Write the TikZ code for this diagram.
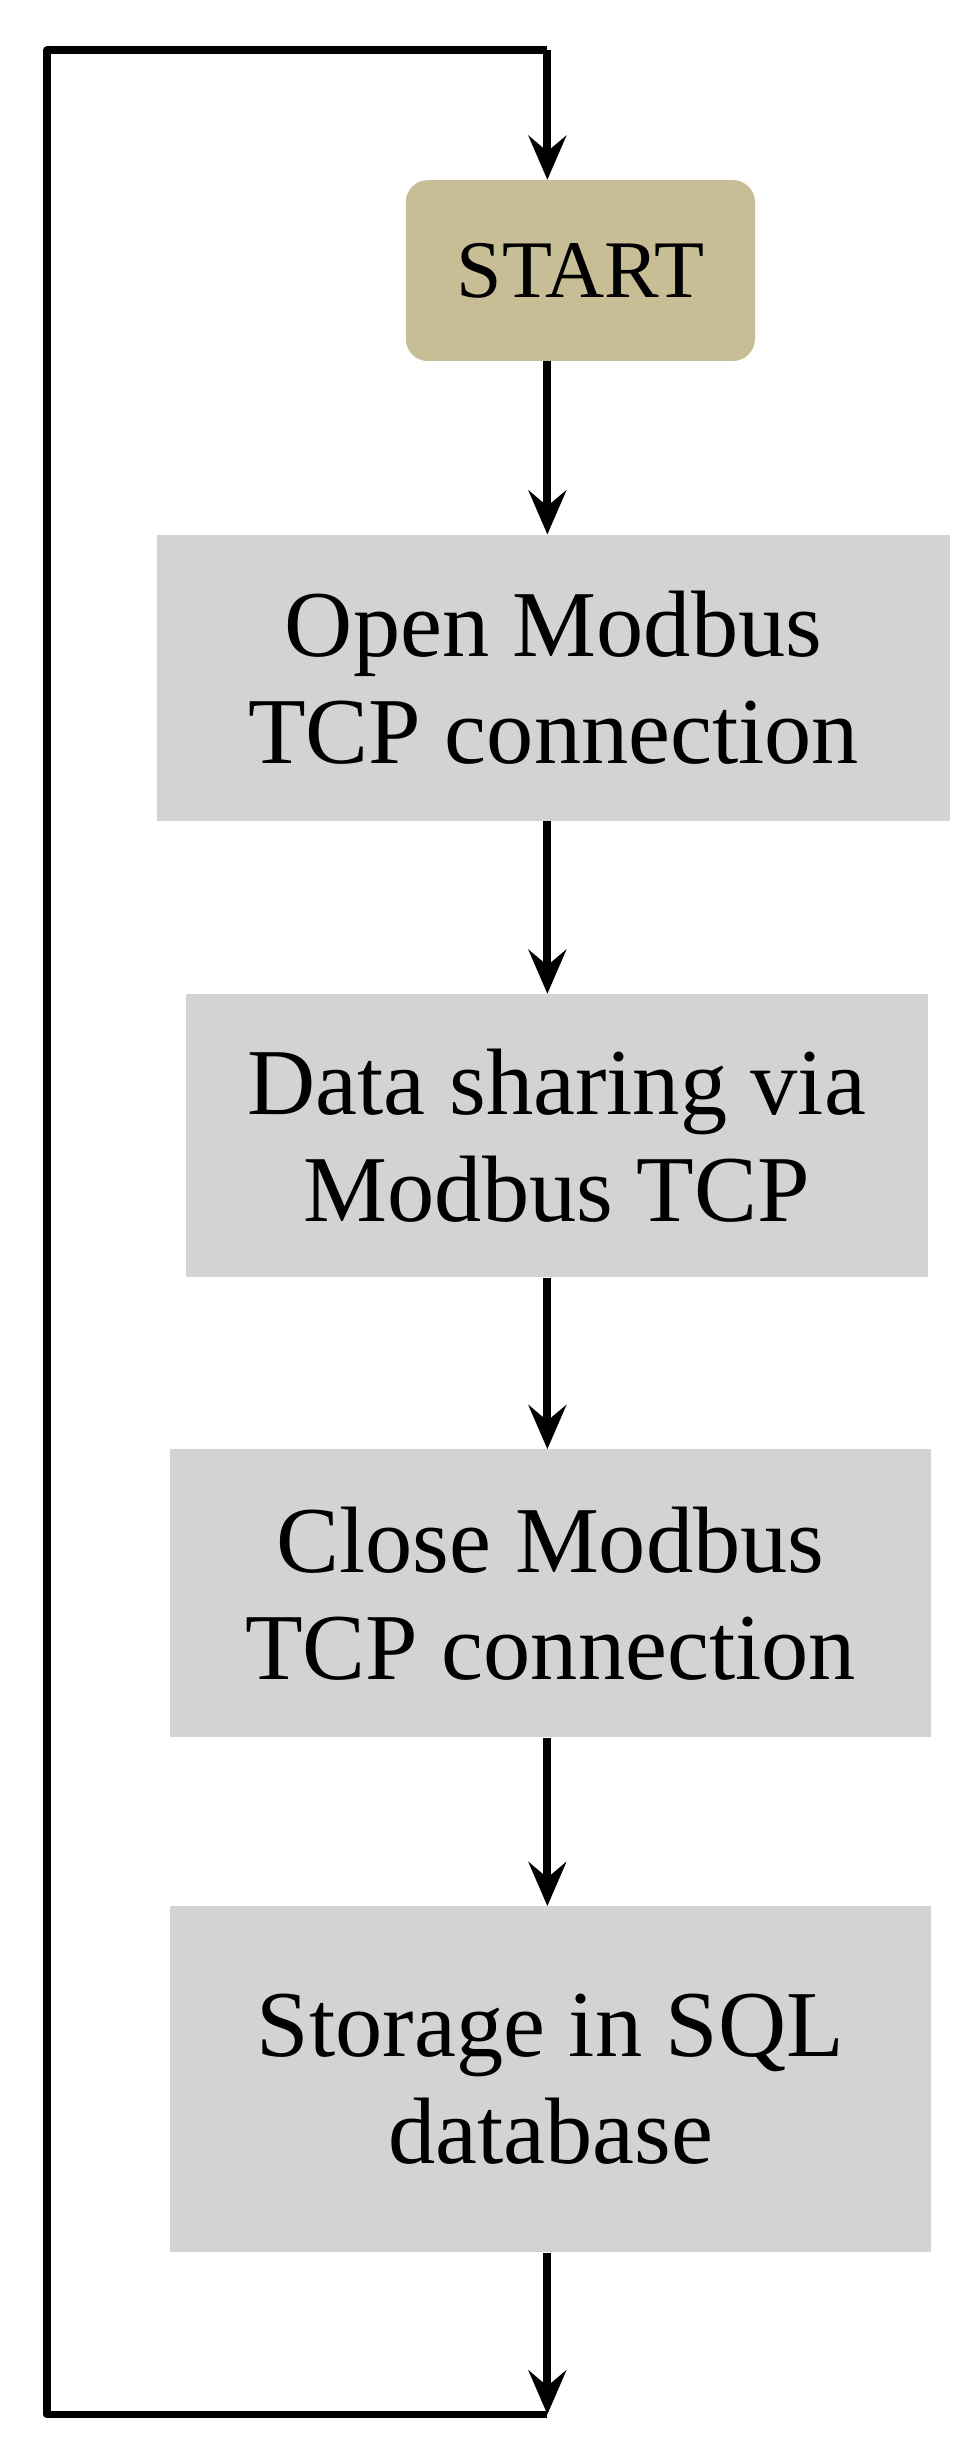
\documentclass[tikz,border=0pt]{standalone}
\usepackage{fontspec}
\setmainfont{Liberation Serif}
\usetikzlibrary{arrows.meta}
\definecolor{tan}{RGB}{200,190,150}
\definecolor{boxg}{RGB}{211,211,211}
\begin{document}
\begin{tikzpicture}[x=1pt,y=-1pt,
  box/.style={fill=boxg,draw=none,inner sep=0pt,align=center,font=\fontsize{60}{68}\selectfont},
  ar/.style={line width=5pt,-{Stealth[length=28pt,width=24pt,inset=10pt]}}]
\useasboundingbox (0,0) rectangle (622,1550);
\node[fill=tan,rounded corners=14pt,minimum width=222pt,minimum height=115pt,inner sep=0pt,font=\fontsize{52}{60}\selectfont] (s) at (369,172) {START};
\node[box,minimum width=504pt,minimum height=182pt] (b1) at (352,431) {Open Modbus\\TCP connection};
\node[box,minimum width=472pt,minimum height=180pt] (b2) at (354,722) {Data sharing via\\Modbus TCP};
\node[box,minimum width=484pt,minimum height=183pt] (b3) at (350,1013) {Close Modbus\\TCP connection};
\node[box,minimum width=484pt,minimum height=220pt] (b4) at (350,1322) {Storage in SQL\\database};
\coordinate (top) at (348,32);
\coordinate (bot) at (348,1535);
\draw[ar] (s.south -| top) -- (b1.north -| top);
\draw[ar] (b1.south -| top) -- (b2.north -| top);
\draw[ar] (b2.south -| top) -- (b3.north -| top);
\draw[ar] (b3.south -| top) -- (b4.north -| top);
\draw[ar] (b4.south -| top) -- (bot);
\draw[line width=5pt,line join=round] (bot) -- (30,1535) -- (30,32) -- (top);
\draw[ar] (top) -- (s.north -| top);
\end{tikzpicture}
\end{document}
